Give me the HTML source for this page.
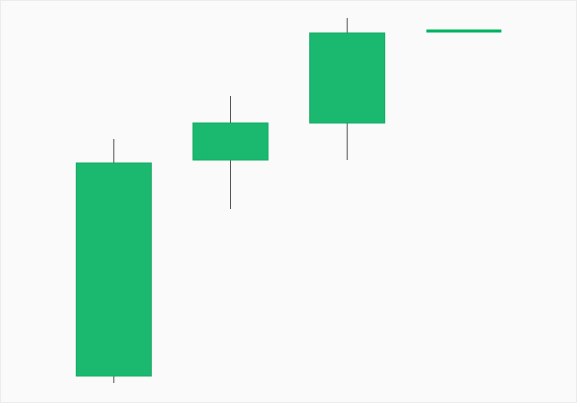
<!DOCTYPE html>
<html><head><meta charset="utf-8"><style>
html,body{margin:0;padding:0;background:#fff;}
#wrap{position:relative;width:580px;height:407px;}
svg{display:block;}
</style></head><body>
<div id="wrap">
<svg id="chart" width="580" height="407">
<rect x="0.5" y="0.5" width="576" height="402" fill="#fafafa" stroke="#ececec"/>
<g id="candles"></g>
</svg>
</div>
<script>
const categories = ["c1","c2","c3","c4"];
const openVals  = [24, 240, 277, 369];
const closeVals = [237, 277, 367, 369];
const highVals  = [261, 304, 382, 369];
const lowVals   = [17, 191, 240, 369];

const yBase = 400, xStart = 113.8, xStep = 116.7, bodyW = 75;
function y(v){ return yBase - v; }
function x(i){ return xStart + i * xStep; }

const ns = "http://www.w3.org/2000/svg";
const g = document.getElementById('candles');
categories.forEach((c, i) => {
  const cx = x(i);
  const o = openVals[i], cl = closeVals[i], h = highVals[i], l = lowVals[i];
  if (o === cl && h === l) {
    const ln = document.createElementNS(ns, 'line');
    
    
    ln.setAttribute('x1', cx - bodyW/2); ln.setAttribute('x2', cx + bodyW/2);
    ln.setAttribute('y1', y(o)); ln.setAttribute('y2', y(o));
    ln.setAttribute('stroke', '#00b25c'); ln.setAttribute('stroke-width', 3);
    g.appendChild(ln);
    return;
  }
  const w = document.createElementNS(ns, 'line');
  
  
  w.setAttribute('x1', cx); w.setAttribute('x2', cx);
  w.setAttribute('y1', y(h)); w.setAttribute('y2', y(l));
  w.setAttribute('stroke', '#555'); w.setAttribute('stroke-width', 1);
  g.appendChild(w);
  const r = document.createElementNS(ns, 'rect');
  
  
  const top = y(Math.max(o, cl)), bot = y(Math.min(o, cl));
  r.setAttribute('x', cx - bodyW/2); r.setAttribute('y', top);
  r.setAttribute('width', bodyW); r.setAttribute('height', bot - top);
  r.setAttribute('fill', '#1bb870'); r.setAttribute('stroke', '#12a862'); r.setAttribute('stroke-width', 1);
  g.appendChild(r);
});
</script>
</body></html>
